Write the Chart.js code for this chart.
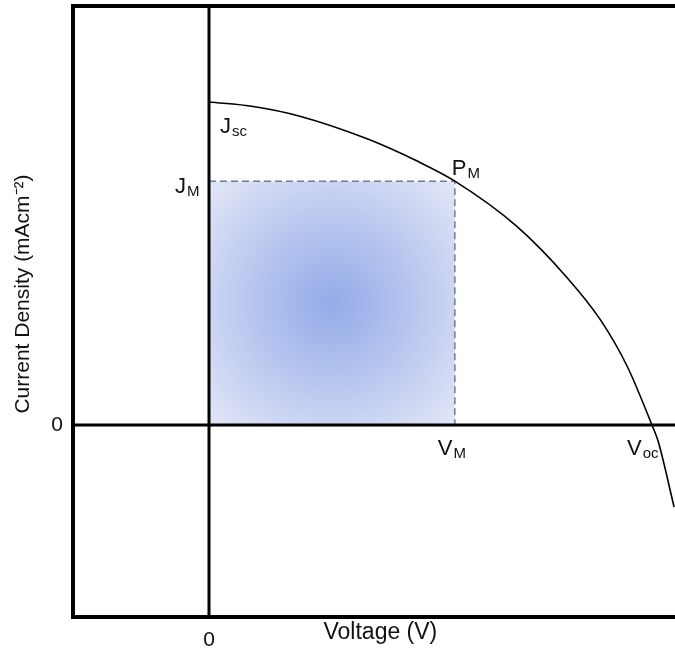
<!DOCTYPE html>
<html>
<head>
<meta charset="utf-8">
<title>J-V Curve</title>
<script src="https://cdn.jsdelivr.net/npm/chart.js"></script>
<style>
  body { margin: 0; background: #fff; }
</style>
</head>
<body>
<canvas id="jvChart" width="675" height="655"></canvas>
<script>
// J-V curve (arbitrary units, Voc = 1, Jsc = 1)
const voltage = [0, 0.100, 0.205, 0.357, 0.470, 0.555, 0.695, 0.808, 0.883, 0.944, 1.0, 1.0135, 1.050];
const current = [1.0, 0.986, 0.956, 0.886, 0.817, 0.755, 0.615, 0.457, 0.327, 0.182, 0, -0.048, -0.254];

// max power point and intercepts
const vM = 0.555;
const jM = 0.755;
const voc = 1.0;
const jsc = 1.0;

const xRange = [-0.307, 1.052];
const yRange = [-0.594, 1.297];
const tickValues = [0];

const FONT = '"Liberation Sans", Arial, sans-serif';
Chart.defaults.font.family = FONT;
Chart.defaults.color = '#111';

const curve = voltage.map((v, i) => ({ x: v, y: current[i] }));

function rectGradient(context) {
    const chart = context.chart;
    if (!chart.chartArea) return 'rgba(180,195,240,0.6)';
    const sx = chart.scales.x, sy = chart.scales.y;
    const x0 = sx.getPixelForValue(0), x1 = sx.getPixelForValue(vM);
    const y0 = sy.getPixelForValue(0), y1 = sy.getPixelForValue(jM);
    const cx = (x0 + x1) / 2, cy = (y0 + y1) / 2;
    const r = Math.hypot(x1 - x0, y1 - y0) / 2;
    const g = chart.ctx.createRadialGradient(cx, cy, 0, cx, cy, r);
    g.addColorStop(0, '#93abe8');
    g.addColorStop(0.45, '#b6c5ef');
    g.addColorStop(0.75, '#cfd8f3');
    g.addColorStop(1, '#e3e7f6');
    return g;
}

// subscripted point labels
const annotations = [
    { main: 'J', sub: 'sc', x: 0, y: jsc, dx: 11, dy: 31 },
    { main: 'J', sub: 'M', x: 0, y: jM, dx: -34, dy: 12 },
    { main: 'P', sub: 'M', x: vM, y: jM, dx: -3, dy: -6 },
    { main: 'V', sub: 'M', x: vM, y: 0, dx: -17, dy: 30 },
    { main: 'V', sub: 'oc', x: voc, y: 0, dx: -25, dy: 30 }
];

const framePlugin = {
    id: 'frameTop',
    afterDatasetsDraw(chart) {
        const { ctx, chartArea } = chart;
        ctx.save();
        ctx.strokeStyle = '#000';
        ctx.lineWidth = 4;
        ctx.beginPath();
        ctx.moveTo(chartArea.left - 2, chartArea.top);
        ctx.lineTo(chartArea.right, chartArea.top);
        ctx.stroke();
        ctx.restore();
    }
};

const labelPlugin = {
    id: 'pointLabels',
    afterDatasetsDraw(chart) {
        const { ctx, scales } = chart;
        ctx.save();
        ctx.fillStyle = '#111';
        ctx.textBaseline = 'alphabetic';
        ctx.textAlign = 'left';
        annotations.forEach(a => {
            const px = scales.x.getPixelForValue(a.x) + a.dx;
            const py = scales.y.getPixelForValue(a.y) + a.dy;
            ctx.font = '22px ' + FONT;
            ctx.fillText(a.main, px, py);
            const w = ctx.measureText(a.main).width;
            ctx.font = '15px ' + FONT;
            ctx.fillText(a.sub, px + w + 1, py + 3);
        });
        ctx.restore();
    }
};

const ctx = document.getElementById('jvChart').getContext('2d');
new Chart(ctx, {
    type: 'line',
    data: {
        datasets: [{
            label: 'V = 0',
            data: [{ x: 0, y: yRange[0] }, { x: 0, y: yRange[1] }],
            borderColor: '#000',
            borderWidth: 3,
            pointRadius: 0
        }, {
            label: 'J = 0',
            data: [{ x: xRange[0], y: 0 }, { x: xRange[1], y: 0 }],
            borderColor: '#000',
            borderWidth: 3,
            pointRadius: 0
        }, {
            label: 'J-V',
            data: curve,
            borderColor: '#000',
            borderWidth: 1.6,
            cubicInterpolationMode: 'monotone',
            pointRadius: 0
        }, {
            label: 'Pmax',
            data: [{ x: 0, y: jM }, { x: vM, y: jM }, { x: vM, y: 0 }],
            borderColor: '#6f7b98',
            borderWidth: 1.5,
            borderDash: [7, 4],
            fill: 'origin',
            backgroundColor: rectGradient,
            pointRadius: 0
        }]
    },
    options: {
        responsive: false,
        animation: false,
        layout: { padding: { top: 6, right: 0, bottom: 0, left: 0 } },
        plugins: {
            legend: { display: false },
            tooltip: { enabled: false }
        },
        scales: {
            x: {
                type: 'linear',
                min: xRange[0],
                max: xRange[1],
                afterFit(scale) {
                    scale.height = 38;
                    scale.paddingLeft = 0;
                    scale.paddingRight = 0;
                },
                afterBuildTicks(scale) { scale.ticks = tickValues.map(v => ({ value: v })); },
                grid: { display: false, drawTicks: false },
                border: { color: '#000', width: 4 },
                ticks: { padding: 11, font: { size: 21 }, color: '#111' },
                title: {
                    display: true,
                    text: '  Voltage (V)',
                    font: { size: 23 },
                    color: '#111',
                    padding: { top: 0, bottom: 9 }
                }
            },
            y: {
                type: 'linear',
                min: yRange[0],
                max: yRange[1],
                afterFit(scale) {
                    scale.width = 73;
                    scale.paddingTop = 0;
                    scale.paddingBottom = 0;
                },
                afterBuildTicks(scale) { scale.ticks = tickValues.map(v => ({ value: v })); },
                grid: { display: false, drawTicks: false },
                border: { color: '#000', width: 4 },
                ticks: { padding: 10, font: { size: 21 }, color: '#111' },
                title: {
                    display: true,
                    text: '      Current Density (mAcm\u207B\u00B2)',
                    font: { size: 21 },
                    color: '#111',
                    padding: { top: 11, bottom: 0 }
                }
            }
        }
    },
    plugins: [framePlugin, labelPlugin]
});
</script>
</body>
</html>
